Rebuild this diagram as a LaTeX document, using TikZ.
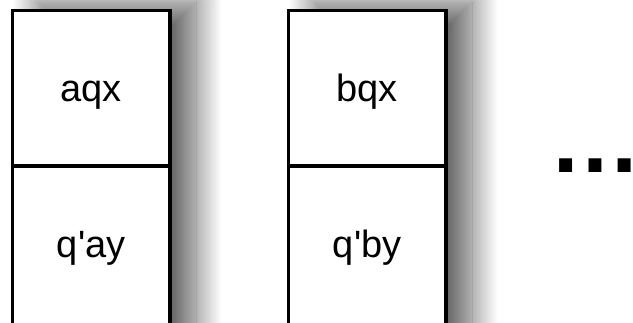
\documentclass[tikz,border=0pt]{standalone}
\usepackage{fontspec}
\setmainfont{Liberation Sans}
\usetikzlibrary{shadows.blur}
\begin{document}
\begin{tikzpicture}[x=1pt,y=1pt,
  colbg/.style={fill=white, inner sep=0pt, outer sep=0pt, anchor=north west,
    blur shadow={shadow xshift=26pt, shadow yshift=8pt, shadow blur radius=26pt, shadow opacity=62, shadow blur steps=30}},
  cell/.style={draw=black, line width=3.5pt, inner sep=0pt, outer sep=0pt, anchor=north west, minimum width=157.5pt},
  lbl/.style={font=\fontsize{38}{40}\selectfont, anchor=base, inner sep=0pt}
]
\useasboundingbox (0,0) rectangle (633,322);
\begin{scope}
\clip (0,0) rectangle (633,322);
% column 1
\node[colbg, minimum width=157.5pt, minimum height=360pt] (col1) at (12.5,311.5) {};
\node[cell, minimum height=155.5pt] (a1) at (12.5,311.5) {};
\node[cell, minimum height=200pt] (b1) at (12.5,156) {};
% column 2
\node[colbg, minimum width=157.5pt, minimum height=360pt] (col2) at (288.5,311.5) {};
\node[cell, minimum height=155.5pt] (a2) at (288.5,311.5) {};
\node[cell, minimum height=200pt] (b2) at (288.5,156) {};
\end{scope}
\node[lbl] (t1) at (91.25,220.3) {aqx};
\node[lbl] (t2) at (91.25,64) {q\textquotesingle ay};
\node[lbl] (t3) at (367.25,220.3) {bqx};
\node[lbl] (t4) at (367.25,64) {q\textquotesingle by};
\node[font=\fontsize{92}{92}\selectfont\bfseries, anchor=base west, inner sep=0pt] (dots) at (549,149.3) {…};
\end{tikzpicture}
\end{document}
